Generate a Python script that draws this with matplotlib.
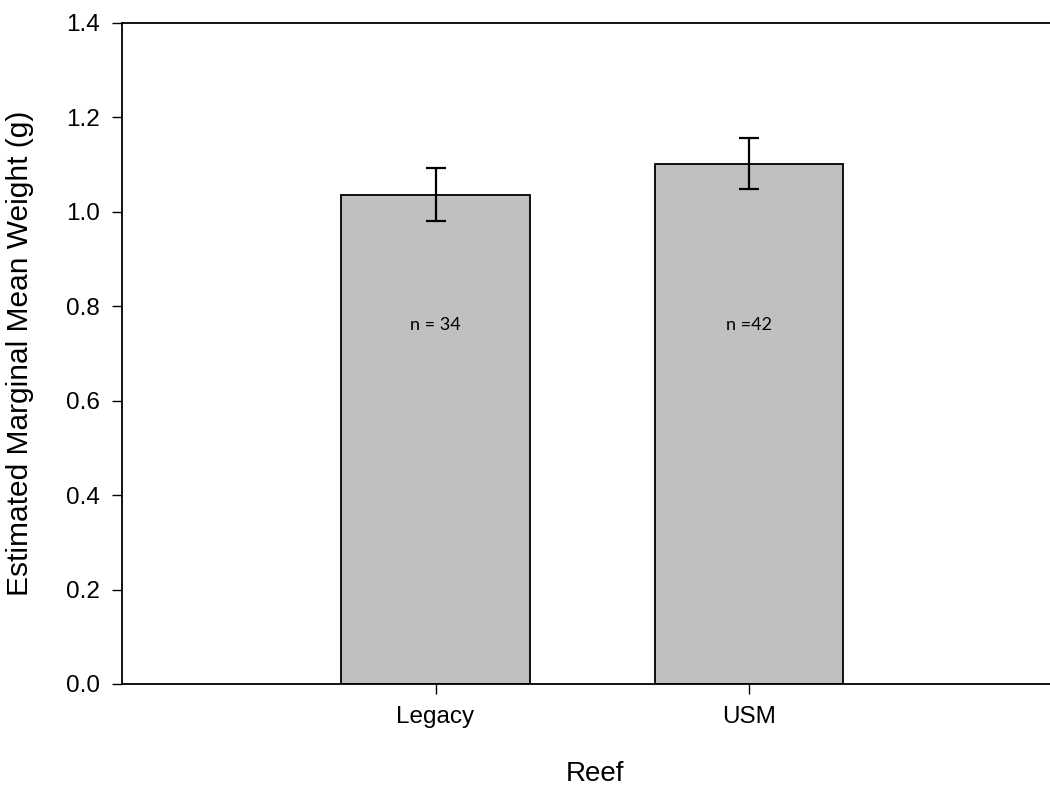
import matplotlib
matplotlib.use("Agg")
import matplotlib.pyplot as plt

reefs = ["Legacy", "USM"]
means = [1.036, 1.102]
errs = [0.056, 0.054]
n_labels = ["n = 34", "n =42"]
n_y = 0.76

plt.rcParams['font.family'] = ['Liberation Sans', 'DejaVu Sans']

fig = plt.figure(figsize=(10.5, 7.89), dpi=100)
ax = fig.add_axes([0.1162, 0.1331, 0.8838, 0.8378])

xs = [1, 2]
ax.bar(xs, means, width=0.6, color="#c0c0c0", edgecolor="black", linewidth=1.3)
ax.errorbar(xs, means, yerr=errs, fmt="none", ecolor="black", elinewidth=1.6,
            capsize=7.5, capthick=1.6)

for x, lab in zip(xs, n_labels):
    ax.text(x, n_y, lab, ha="center", va="center", fontsize=13, family=["Lato", "DejaVu Sans"])

ax.set_xlim(0, 2.96)
ax.set_ylim(0, 1.4)
ax.set_yticks([0.0, 0.2, 0.4, 0.6, 0.8, 1.0, 1.2, 1.4])
ax.set_yticklabels(["0.0", "0.2", "0.4", "0.6", "0.8", "1.0", "1.2", "1.4"])
ax.set_xticks(xs)
ax.set_xticklabels(reefs)
ax.tick_params(direction="out", length=7, width=1, labelsize=17.5, pad=9)
ax.spines["right"].set_visible(False)
for s in ["left", "top", "bottom"]:
    ax.spines[s].set_linewidth(1.3)

ax.set_xlabel("Reef", fontsize=20)
ax.xaxis.set_label_coords(0.51, -0.117)
ax.set_ylabel("Estimated Marginal Mean Weight (g)", fontsize=21.5)
ax.yaxis.set_label_coords(-0.095, 0.5)

fig.savefig("out.png", dpi=100)
